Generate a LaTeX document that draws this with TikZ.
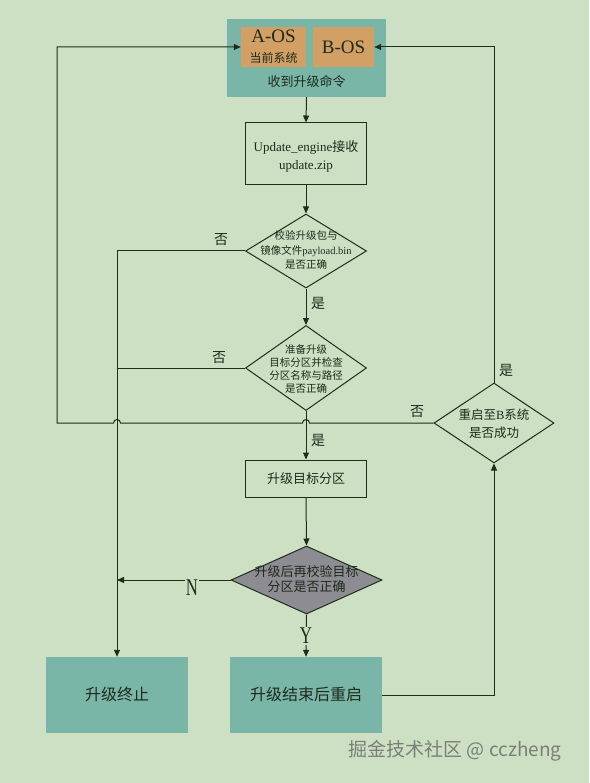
\documentclass[tikz,border=0pt]{standalone}
\usepackage{fontspec}
\setmainfont{Liberation Serif}
\newfontfamily\cjk{Noto Sans CJK SC}
\usetikzlibrary{shapes.geometric,arrows.meta}
\definecolor{bgc}{HTML}{CEE0C4}
\definecolor{tealc}{HTML}{7AB6A8}
\definecolor{orngc}{HTML}{D2A064}
\definecolor{grayc}{HTML}{8C8C92}
\definecolor{lc}{HTML}{1F2D19}
\definecolor{tc}{HTML}{1E2A1C}
\definecolor{wmc}{HTML}{7A7F78}
\newcommand\zh[1]{{\cjk #1}}
\newcommand\fsz[2]{\fontsize{#1}{#2}\selectfont}
\begin{document}
\begin{tikzpicture}[x=1pt,y=1pt,
  ln/.style={draw=lc, line width=1pt},
  arr/.style={ln, -{Triangle[length=7pt,width=6pt]}},
  boxw/.style={rectangle, draw=lc, line width=1pt, inner sep=0pt, minimum width=121pt},
  tbox/.style={rectangle, fill=tealc, inner sep=0pt},
  obox/.style={rectangle, fill=orngc, inner sep=0pt, minimum height=40pt},
  dia/.style={diamond, draw=lc, line width=1pt, inner sep=0pt},
  txt/.style={text=tc, inner sep=0pt, align=center},
  lab/.style={text=tc, inner sep=0pt, font=\cjk\fsz{14}{16}}
]
\fill[bgc] (0,0) rectangle (589,-783);
\useasboundingbox (0,0) rectangle (589,-783);

% top block
\node[tbox, minimum width=159pt, minimum height=78pt] (top) at (306.5,-58) {};
\node[obox, minimum width=65pt] (aos) at (273.5,-47) {};
\node[obox, minimum width=61pt] (bos) at (343.5,-47) {};
\node[txt, font=\fsz{19}{22}] (aost) at (273.5,-36) {A-OS};
\node[txt, font=\cjk\fsz{12}{14}] (aoss) at (273.5,-57.5) {当前系统};
\node[txt, font=\fsz{19}{22}] (bost) at (343.5,-47) {B-OS};
\node[txt, font=\cjk\fsz{13}{15}] (topt) at (306.5,-82) {收到升级命令};

% update box
\node[boxw, minimum height=62pt] (upd) at (306,-154) {};
\node[txt, font=\fsz{13}{18}] (updt) at (306,-156) {Update\_engine\zh{接收}\\update.zip};

% diamond 1
\node[dia, minimum width=121pt, minimum height=74pt] (d1) at (306,-251) {};
\node[txt, font=\fsz{10.5}{14.5}] (d1t) at (306,-250) {\zh{校验升级包与}\\\zh{镜像文件}payload.bin\\\zh{是否正确}};

% diamond 2
\node[dia, minimum width=121pt, minimum height=85pt] (d2) at (306,-368) {};
\node[txt, font=\cjk\fsz{10.5}{13.3}] (d2t) at (306,-369) {准备升级\\目标分区并检查\\分区名称与路径\\是否正确};

% diamond 3
\node[dia, minimum width=120pt, minimum height=80pt] (d3) at (494,-423) {};
\node[txt, font=\fsz{12.5}{18}] (d3t) at (494,-424) {\zh{重启至}B\zh{系统}\\\zh{是否成功}};

% target box
\node[boxw, minimum height=37pt] (tgt) at (306,-478.5) {};
\node[txt, font=\cjk\fsz{13}{15}] (tgtt) at (306,-478.5) {升级目标分区};

% diamond 4
\node[dia, fill=grayc, minimum width=151pt, minimum height=68pt] (d4) at (306.5,-580) {};
\node[txt, font=\cjk\fsz{13}{15}] (d4t) at (306.5,-579.5) {升级后再校验目标\\分区是否正确};

% bottom boxes
\node[tbox, minimum width=142pt, minimum height=76pt] (stop) at (117,-695) {};
\node[txt, font=\cjk\fsz{16}{18}] (stopt) at (117,-694) {升级终止};
\node[tbox, minimum width=152pt, minimum height=76pt] (rb) at (306,-695) {};
\node[txt, font=\cjk\fsz{16}{18}] (rbt) at (306,-694) {升级结束后重启};

\coordinate (L) at (57,-422);

% main flow
\draw[arr] (top.south) -- (upd.north);
\draw[arr] (upd.south) -- (d1.north);
\draw[arr] (d1.south) -- (d2.north);
\draw[arr] (d2.south) -- (tgt.north);
\draw[arr] (tgt.south) -- (d4.north);
\draw[arr] (d4.south) -- (rb.north);

% no branches
\draw[arr] (d1.west) -| (stop.north);
\draw[ln] (d2.west) -- (d2.west -| stop.north);
\draw[arr] (d4.west) -- (d4.west -| stop.north);

% restart loop
\draw[arr] (rb.east) -| (d3.south);
\draw[arr] (d3.north) |- (bos.east);
\draw[arr] (d3.west) -- ([xshift=3.5pt]d3.west -| tgt.north)
  arc[start angle=0, end angle=180, radius=3.5pt]
  -- ([xshift=3.5pt]d3.west -| stop.north)
  arc[start angle=0, end angle=180, radius=3.5pt]
  -- (d3.west -| L) |- (aos.west);

% labels
\node[lab] (n1) at (221,-240) {否};
\node[lab] (n2) at (219,-358) {否};
\node[lab] (n3) at (417,-412) {否};
\node[lab] (y1) at (318,-303) {是};
\node[lab] (y2) at (318,-440) {是};
\node[lab] (y3) at (506,-370) {是};
\node[txt, fill=bgc, inner sep=1pt, font=\fsz{24}{26}] (nn) at (192,-588) {\scalebox{0.7}[1]{N}};
\node[txt, fill=bgc, inner sep=1pt, font=\fsz{24}{26}] (yy) at (306,-636) {\scalebox{0.7}[1]{Y}};

% watermark
\node[inner sep=0pt, text=wmc, font=\cjk\fsz{19}{21}] (wm) at (455,-751) {掘金技术社区 @ cczheng};
\end{tikzpicture}
\end{document}
